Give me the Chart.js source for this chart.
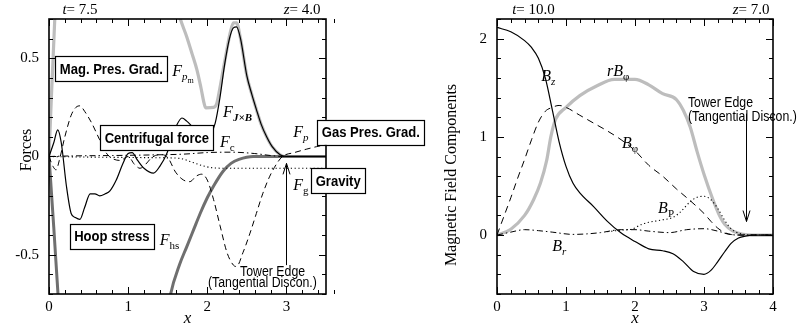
<!DOCTYPE html>
<html><head><meta charset="utf-8">
<script src="https://cdn.jsdelivr.net/npm/chart.js@4"></script>
<style>html,body{margin:0;padding:0;background:#fff;}#wrap{position:relative;width:798px;height:330px;overflow:hidden;}canvas{position:absolute;left:0;top:0;}</style>
</head><body><div id="wrap"><canvas id="c1" width="798" height="330"></canvas><canvas id="c2" width="798" height="330"></canvas></div>
<script>
// ---------- LEFT PANEL DATA (x, force) ----------
const leftXTicks = [0, 1, 2, 3];
const leftXLabels = ['0', '1', '2', '3'];
const leftYTicks = [-0.5, 0, 0.5];
const leftYLabels = ['-0.5', '0', '0.5'];

const F_JxB = [[0,0],[0.06,0.07],[0.11,0.136],[0.155,0.07],[0.22,-0.15],[0.28,-0.29],[0.33,-0.31],[0.39,-0.32],[0.45,-0.26],[0.52,-0.19],[0.58,-0.19],[0.64,-0.2],[0.71,-0.19],[0.77,-0.175],[0.85,-0.12],[0.93,-0.04],[1.0,0.015],[1.05,0.02],[1.12,-0.02],[1.2,-0.06],[1.32,-0.085],[1.4,-0.05],[1.49,0.017],[1.56,0.1],[1.61,0.156],[1.68,0.196],[1.74,0.18],[1.8,0.156],[1.88,0.12],[1.96,0.1],[2.05,0.12],[2.1,0.17],[2.16,0.3],[2.22,0.47],[2.28,0.6],[2.33,0.655],[2.37,0.66],[2.42,0.6],[2.5,0.41],[2.56,0.32],[2.62,0.24],[2.68,0.165],[2.75,0.1],[2.82,0.05],[2.92,0.009],[3.0,0],[3.5,0]];
const F_p = [[0,0],[0.05,-0.05],[0.09,-0.068],[0.13,-0.02],[0.2,0.1],[0.28,0.21],[0.34,0.25],[0.39,0.258],[0.45,0.23],[0.54,0.17],[0.64,0.085],[0.72,0.02],[0.8,-0.01],[0.9,-0.02],[1.0,0.0],[1.08,-0.04],[1.15,-0.06],[1.22,-0.04],[1.3,-0.005],[1.4,0.01],[1.5,-0.005],[1.6,-0.08],[1.7,-0.12],[1.78,-0.128],[1.86,-0.1],[1.93,-0.09],[2.0,-0.12],[2.08,-0.22],[2.16,-0.35],[2.25,-0.49],[2.33,-0.553],[2.37,-0.56],[2.45,-0.49],[2.54,-0.39],[2.62,-0.29],[2.7,-0.19],[2.79,-0.1],[2.88,-0.035],[2.95,0],[3.1,0.02],[3.25,0.037],[3.38,0.05],[3.5,0.06]];
const F_c = [[0,0],[0.3,0.003],[0.8,0.005],[1.3,0.008],[1.7,0.012],[2.0,0.02],[2.3,0.022],[2.6,0.015],[2.8,0.005],[2.95,0],[3.5,0]];
const F_g = [[0,0],[0.5,-0.003],[1.0,-0.005],[1.5,-0.007],[1.66,-0.01],[1.8,-0.028],[1.95,-0.048],[2.08,-0.058],[2.3,-0.06],[3.5,-0.06]];
const F_hs = [[0,0],[0.06,-0.36],[0.12,-0.74],[0.2,-1.2],[0.6,-1.6],[1.2,-1.3],[1.45,-0.92],[1.537,-0.7],[1.65,-0.55],[1.74,-0.46],[1.83,-0.37],[1.91,-0.29],[2.0,-0.21],[2.08,-0.15],[2.2,-0.075],[2.3,-0.035],[2.4,-0.015],[2.58,0],[3.5,0]];
const F_pm = [[0,0],[0.035,0.35],[0.075,0.72],[0.12,1.3],[0.5,1.8],[1.2,1.5],[1.5,0.95],[1.655,0.706],[1.74,0.61],[1.81,0.52],[1.87,0.44],[1.92,0.35],[1.96,0.27],[1.98,0.248],[2.08,0.25],[2.12,0.27],[2.16,0.35],[2.2,0.44],[2.25,0.55],[2.29,0.63],[2.33,0.68],[2.37,0.68],[2.42,0.6],[2.5,0.41],[2.56,0.32],[2.62,0.24],[2.68,0.165],[2.75,0.1],[2.82,0.05],[2.92,0.009],[3.0,0],[3.5,0]];

// ---------- RIGHT PANEL DATA (x, field) ----------
const rightXTicks = [0, 1, 2, 3, 4];
const rightXLabels = ['0', '1', '2', '3', '4'];
const rightYTicks = [0, 1, 2];
const rightYLabels = ['0', '1', '2'];

const B_z = [[0,2.114],[0.2,2.07],[0.4,1.98],[0.5,1.91],[0.6,1.8],[0.7,1.6],[0.8,1.28],[0.9,0.95],[1.0,0.7],[1.1,0.53],[1.2,0.43],[1.4,0.29],[1.6,0.14],[1.8,0.02],[2.0,-0.065],[2.2,-0.14],[2.4,-0.16],[2.55,-0.19],[2.7,-0.27],[2.85,-0.37],[3.0,-0.4],[3.1,-0.36],[3.2,-0.27],[3.3,-0.17],[3.4,-0.08],[3.5,-0.03],[3.6,-0.01],[3.7,0],[4,0]];
const rB_phi = [[0,0],[0.2,0.06],[0.4,0.2],[0.53,0.36],[0.63,0.53],[0.72,0.76],[0.78,1.0],[0.85,1.18],[1.0,1.3],[1.2,1.42],[1.45,1.52],[1.7,1.585],[2.0,1.585],[2.2,1.53],[2.4,1.44],[2.6,1.38],[2.7,1.27],[2.8,1.1],[2.9,0.85],[3.0,0.62],[3.13,0.36],[3.23,0.19],[3.3,0.11],[3.42,0.04],[3.57,0.007],[3.7,0],[4,0]];
const B_phi = [[0,0],[0.1,0.19],[0.2,0.38],[0.3,0.58],[0.4,0.77],[0.5,0.97],[0.6,1.15],[0.7,1.26],[0.8,1.3],[0.9,1.32],[1.0,1.3],[1.2,1.22],[1.4,1.14],[1.6,1.06],[1.8,0.97],[2.0,0.86],[2.2,0.71],[2.4,0.6],[2.6,0.47],[2.8,0.35],[3.0,0.22],[3.1,0.14],[3.2,0.07],[3.3,0.025],[3.4,0.005],[3.5,0],[4,0]];
const B_P = [[1.6,0.035],[1.8,0.05],[1.95,0.06],[2.1,0.11],[2.2,0.13],[2.4,0.155],[2.55,0.18],[2.65,0.23],[2.8,0.34],[2.9,0.385],[3.0,0.395],[3.1,0.36],[3.2,0.27],[3.3,0.15],[3.4,0.06],[3.5,0.02],[3.6,0.005],[3.7,0],[4,0]];
const B_r = [[0,0],[0.2,0.03],[0.4,0.055],[0.6,0.045],[0.8,0.03],[1.1,0.007],[1.3,0.012],[1.5,0.025],[1.8,0.055],[2.0,0.055],[2.2,0.04],[2.5,0.025],[2.75,0.055],[3.0,0.065],[3.2,0.04],[3.35,0.01],[3.5,0],[4,0]];

// ---------- helpers ----------
const SERIF = 'Liberation Serif';
const SANS = 'Liberation Sans';
const pts = a => a.map(([x, y]) => ({x, y}));
function ds(arr, color, width, dash) {
  return {data: pts(arr), borderColor: color, borderWidth: width, borderDash: dash || [],
    pointRadius: 0, fill: false, cubicInterpolationMode: 'monotone', borderCapStyle: 'butt'};
}
function rich(ctx, x, y, parts) {
  let cx = x;
  ctx.textAlign = 'left'; ctx.textBaseline = 'alphabetic'; ctx.fillStyle = '#000';
  for (const p of parts) { ctx.font = p[1]; ctx.fillText(p[0], cx, y + (p[2] || 0)); cx += ctx.measureText(p[0]).width + (p[3] || 0); }
  return cx - x;
}
function richWidth(ctx, parts) { let w = 0; for (const p of parts) { ctx.font = p[1]; w += ctx.measureText(p[0]).width + (p[3] || 0); } return w; }
function boxLabel(ctx, cx, cy, text) {
  const cond = 0.9;
  ctx.font = 'bold 14.5px ' + SANS;
  const tw = ctx.measureText(text).width * cond;
  const w = tw + 9, h = 25;
  ctx.fillStyle = '#fff'; ctx.fillRect(cx - w / 2, cy - h / 2, w, h);
  ctx.strokeStyle = '#000'; ctx.lineWidth = 1.2; ctx.setLineDash([]);
  ctx.strokeRect(Math.round(cx - w / 2) + 0.5, Math.round(cy - h / 2) + 0.5, Math.round(w), Math.round(h));
  ctx.save(); ctx.translate(cx, cy); ctx.scale(cond, 1);
  ctx.fillStyle = '#000'; ctx.textAlign = 'center'; ctx.textBaseline = 'middle';
  ctx.fillText(text, 0, 1); ctx.restore();
}
function condText(ctx, x, y, text) {
  ctx.save(); ctx.font = '14px ' + SANS; ctx.translate(x, y); ctx.scale(0.88, 1);
  ctx.fillStyle = '#000'; ctx.textAlign = 'left'; ctx.textBaseline = 'alphabetic';
  ctx.fillText(text, 0, 0); ctx.restore();
}
function arrow(ctx, x, y0, y1) {
  ctx.strokeStyle = '#000'; ctx.lineWidth = 1; ctx.setLineDash([]);
  ctx.beginPath(); ctx.moveTo(x, y0); ctx.lineTo(x, y1);
  const d = y1 < y0 ? 1 : -1;
  ctx.moveTo(x - 3.5, y1 + d * 11); ctx.lineTo(x, y1); ctx.lineTo(x + 3.5, y1 + d * 11);
  ctx.stroke();
}
const F = (s) => [s, 'italic 16px ' + SERIF];
const SUBI = (s) => [s, 'italic 11px ' + SERIF, 4];
const SUBR = (s) => [s, '11px ' + SERIF, 4];

const decor = {
  id: 'decor',
  afterDraw(chart, args, o) {
    const {ctx, chartArea: a} = chart;
    const sx = chart.scales.x, sy = chart.scales.y;
    const X = v => sx.getPixelForValue(v), Y = v => sy.getPixelForValue(v);
    ctx.save();
    // ticks (inward, all four sides)
    ctx.strokeStyle = '#000'; ctx.lineWidth = 1; ctx.setLineDash([]);
    ctx.beginPath();
    const nx = Math.round((sx.max - sx.min) / o.xMinor);
    for (let i = 0; i <= nx; i++) {
      const v = sx.min + i * o.xMinor; const px = Math.round(X(v)) + 0.5;
      const L = Math.abs(v - Math.round(v)) < 1e-6 ? 7 : 4;
      ctx.moveTo(px, a.bottom); ctx.lineTo(px, a.bottom - L);
      ctx.moveTo(px, a.top); ctx.lineTo(px, a.top + L);
    }
    const ny = Math.round((sy.max - sy.min) / o.yMinor);
    for (let i = 0; i <= ny; i++) {
      const v = sy.min + i * o.yMinor; const py = Math.round(Y(v)) + 0.5;
      const L = o.yMajor.some(m => Math.abs(m - v) < 1e-6) ? 7 : 4;
      ctx.moveTo(a.left, py); ctx.lineTo(a.left + L, py);
      ctx.moveTo(a.right, py); ctx.lineTo(a.right - L, py);
    }
    ctx.stroke();
    // frame
    ctx.lineWidth = 1.6;
    ctx.strokeRect(a.left, a.top, a.right - a.left, a.bottom - a.top);
    // top captions
    rich(ctx, X(o.tPos), a.top - 5, [['t', 'italic 15px ' + SERIF], ['= ' + o.tText, '15px ' + SERIF]]);
    const zParts = [['z', 'italic 15px ' + SERIF], ['= ' + o.zText, '15px ' + SERIF]];
    rich(ctx, X(o.zPos) - richWidth(ctx, zParts), a.top - 5, zParts);
    // x axis title
    ctx.font = 'italic 17px ' + SERIF; ctx.textAlign = 'center'; ctx.textBaseline = 'alphabetic'; ctx.fillStyle = '#000';
    ctx.fillText('x', (a.left + a.right) / 2, a.bottom + 29);
    // y axis title
    ctx.save(); ctx.translate(o.yTitleX, o.yTitleY); ctx.rotate(-Math.PI / 2);
    ctx.font = '16px ' + SERIF; ctx.textAlign = 'center'; ctx.textBaseline = 'alphabetic';
    ctx.fillText(o.yTitle, 0, 0); ctx.restore();
    // curve labels
    for (const l of o.labels) rich(ctx, X(l.x), Y(l.y), l.parts);
    // arrows + tower edge text
    arrow(ctx, Math.round(X(o.arrow.x)) + 0.5, Y(o.arrow.y0), Y(o.arrow.y1));
    for (const t of o.texts) condText(ctx, X(t.x), Y(t.y), t.s);
    for (const b of o.boxes) boxLabel(ctx, X(b.x), Y(b.y), b.s);
    ctx.restore();
  }
};

function makeOptions(xr, yr, xt, xl, yt, yl, pad, yW, decorOpts) {
  return {
    responsive: false, animation: false, devicePixelRatio: 1,
    layout: {padding: pad},
    plugins: {legend: {display: false}, tooltip: {enabled: false}, decor: decorOpts},
    scales: {
      x: {type: 'linear', min: xr[0], max: xr[1],
        afterBuildTicks: s => { s.ticks = xt.map(v => ({value: v})); },
        afterFit: s => { s.height = 36; },
        grid: {display: false, drawTicks: false}, border: {display: false},
        ticks: {color: '#000', font: {family: SERIF, size: 15}, padding: 4, maxRotation: 0,
          callback: (v) => xl[xt.indexOf(v)]}},
      y: {type: 'linear', min: yr[0], max: yr[1],
        afterBuildTicks: s => { s.ticks = yt.map(v => ({value: v})); },
        afterFit: s => { s.width = yW; },
        grid: {display: false, drawTicks: false}, border: {display: false},
        ticks: {color: '#000', font: {family: SERIF, size: 15}, padding: 10,
          callback: (v) => yl[yt.indexOf(v)]}}
    }
  };
}

new Chart(document.getElementById('c1'), {
  type: 'line',
  data: {datasets: [
    ds(F_JxB, '#000', 1.2),
    ds(F_p, '#000', 1, [6, 4]),
    ds(F_c, '#000', 1, [6, 3, 1.5, 3]),
    ds(F_g, '#000', 1.1, [1.2, 2.6]),
    ds(F_hs, '#6f6f6f', 3),
    ds(F_pm, '#bdbdbd', 3.2)
  ]},
  options: makeOptions([0, 3.5], [-0.7, 0.7], leftXTicks, leftXLabels, leftYTicks, leftYLabels,
    {left: 0, top: 19, right: 472, bottom: 0}, 49, {
      xMinor: 0.2, yMinor: 0.1, yMajor: leftYTicks,
      tPos: 0.17, tText: '7.5', zPos: 3.43, zText: '4.0',
      yTitle: 'Forces', yTitleX: 31, yTitleY: 150,
      labels: [
        {x: 1.556, y: 0.412, parts: [F('F'), SUBI('p'), ['m', '8px ' + SERIF, 7]]},
        {x: 2.2, y: 0.2, parts: [F('F'), ['J×B', 'bold italic 11px ' + SERIF, 4]]},
        {x: 2.16, y: 0.049, parts: [F('F'), SUBR('c')]},
        {x: 3.085, y: 0.1, parts: [F('F'), SUBI('p')]},
        {x: 3.085, y: -0.17, parts: [F('F'), SUBR('g')]},
        {x: 1.4, y: -0.45, parts: [F('F'), SUBR('hs')]}
      ],
      arrow: {x: 3.0, y0: -0.553, y1: -0.035},
      texts: [{x: 2.414, y: -0.609, s: 'Tower Edge'}, {x: 2.009, y: -0.665, s: '(Tangential Discon.)'}],
      boxes: [
        {x: 0.787, y: 0.447, s: 'Mag. Pres. Grad.'},
        {x: 1.363, y: 0.095, s: 'Centrifugal force'},
        {x: 4.066, y: 0.123, s: 'Gas Pres. Grad.'},
        {x: 3.654, y: -0.124, s: 'Gravity'},
        {x: 0.794, y: -0.407, s: 'Hoop stress'}
      ]
    }),
  plugins: [decor]
});

new Chart(document.getElementById('c2'), {
  type: 'line',
  data: {datasets: [
    ds(B_z, '#000', 1.2),
    ds(B_phi, '#000', 1, [7, 5]),
    ds(B_P, '#000', 1.1, [1.2, 2.6]),
    ds(B_r, '#000', 1, [6, 3, 1.5, 3]),
    ds(rB_phi, '#bdbdbd', 3.2)
  ]},
  options: makeOptions([0, 4], [-0.6, 2.2], rightXTicks, rightXLabels, rightYTicks, rightYLabels,
    {left: 440, top: 17, right: 25, bottom: 0}, 57, {
      xMinor: 0.2, yMinor: 0.2, yMajor: rightYTicks,
      tPos: 0.22, tText: '10.0', zPos: 3.95, zText: '7.0',
      yTitle: 'Magnetic Field Components', yTitleX: 456, yTitleY: 175,
      labels: [
        {x: 0.64, y: 1.57, parts: [F('B'), SUBI('z')]},
        {x: 1.595, y: 1.62, parts: [F('rB'), SUBR('φ')]},
        {x: 1.81, y: 0.884, parts: [F('B'), SUBR('φ')]},
        {x: 2.335, y: 0.228, parts: [F('B'), SUBR('P')]},
        {x: 0.8, y: -0.165, parts: [F('B'), SUBI('r')]}
      ],
      arrow: {x: 3.615, y0: 1.237, y1: 0.138},
      texts: [{x: 2.767, y: 1.307, s: 'Tower Edge'}, {x: 2.767, y: 1.166, s: '(Tangential Discon.)'}],
      boxes: []
    }),
  plugins: [decor]
});
</script></body></html>
